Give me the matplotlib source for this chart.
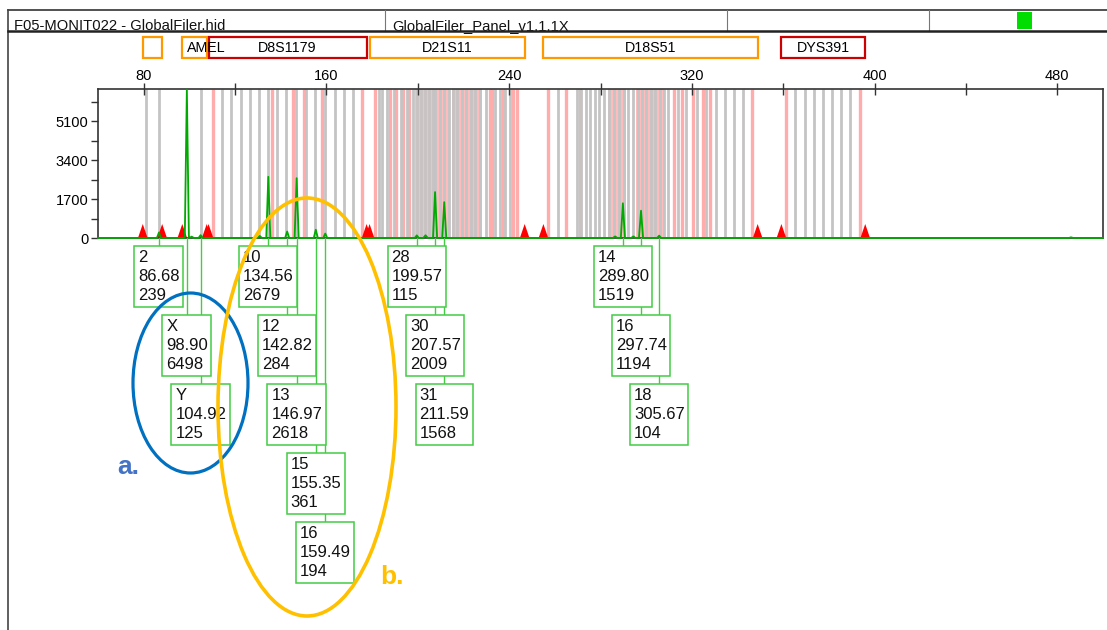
import matplotlib.pyplot as plt
from matplotlib.patches import Rectangle, Ellipse, Polygon
from matplotlib.ticker import MultipleLocator

plt.rcParams["font.family"] = ["Liberation Sans", "DejaVu Sans"]

W, H = 1107, 630

header_file = "F05-MONIT022 - GlobalFiler.hid"
header_panel = "GlobalFiler_Panel_v1.1.1X"

marker_names = ["", "AMEL", "D8S1179", "D21S11", "D18S51", "DYS391"]
marker_starts = [79.6, 96.9, 108.4, 178.9, 255.0, 359.2]
marker_ends = [88.1, 107.6, 177.6, 246.8, 348.8, 395.9]
marker_colors = ["#ff9900", "#ff9900", "#cc0000", "#ff9900", "#ff9900", "#cc0000"]

allele_names = ["2", "X", "Y", "10", "12", "13", "15", "16", "28", "30", "31", "14", "16", "18"]
allele_sizes = [86.68, 98.90, 104.92, 134.56, 142.82, 146.97, 155.35, 159.49,
                199.57, 207.57, 211.59, 289.80, 297.74, 305.67]
allele_heights = [239, 6498, 125, 2679, 284, 2618, 361, 194, 115, 2009, 1568, 1519, 1194, 104]

minor_sizes = [101.0, 130.8, 203.4, 286.4, 294.4, 486.0]
minor_heights = [60, 90, 120, 70, 70, 30]

gray_bins = [81.2, 86.6, 105.0, 114.5, 118.4, 122.5, 126.4, 130.5, 134.4, 138.5, 142.5,
             146.8, 150.9, 154.9, 159.2, 163.6, 167.6, 171.6, 182.9, 184.5, 186.4, 189.5,
             192.5, 195.1, 197.8, 199.5, 201.3, 203.0, 204.8, 206.5, 207.6, 209.6, 211.6,
             213.5, 215.3, 217.0, 219.2, 221.0, 223.2, 224.9, 227.1, 230.0, 233.7, 235.9,
             238.4, 240.2, 261.3, 269.6, 271.6, 273.5, 275.5, 277.5, 279.2, 281.4, 283.6,
             285.8, 287.9, 290.2, 292.2, 294.2, 296.3, 298.0, 300.1, 302.2, 304.0, 305.9,
             308.0, 309.6, 313.8, 317.5, 322.1, 326.1, 330.4, 334.4, 338.6, 342.3, 365.3,
             369.4, 373.3, 377.3, 381.2, 385.2, 389.1]
pink_bins = [110.4, 136.3, 145.5, 150.1, 158.2, 175.8, 181.1, 187.7, 190.3, 193.5, 196.2,
             231.5, 232.4, 237.2, 241.6, 243.6, 257.0, 265.1, 271.2, 312.0, 315.9, 320.3,
             324.7, 328.1, 346.5, 361.1, 393.4]
pink_spans = [(198.7, 213.6), (214.9, 228.0), (283.5, 291.0), (295.5, 308.0)]

x_ticks_major = 80
x_ticks_minor = 40
y_ticks_major = 1700
y_ticks_minor = 850

GREEN = "#00aa00"
BOX_GREEN = "#44cc44"


def assignRows(lefts, rights):
    placed = []
    rows = []
    for l, r in zip(lefts, rights):
        row = 0
        while any(pr == row and l < pr_r + 2 and r > pr_l - 2 for pr, pr_l, pr_r in placed):
            row += 1
        placed.append((row, l, r))
        rows.append(row)
    return rows


fig = plt.figure(figsize=(W / 100, H / 100), dpi=100)
ax = fig.add_axes([98 / W, 1 - 238 / H, (1103 - 98) / W, (238 - 89) / H])
ax.set_xlim(60, 500)
ax.set_ylim(0, 6520)

# bins
for s, e in pink_spans:
    ax.axvspan(s, e, color="#ffbcbc", lw=0, zorder=1)
ax.vlines(pink_bins, 0, 1, transform=ax.get_xaxis_transform(), color="#ffacac", lw=2.4, zorder=1.1)
ax.vlines(gray_bins, 0, 1, transform=ax.get_xaxis_transform(), color="#c4c4c4", lw=2, zorder=1.2)

# trace
peaks = sorted(zip(allele_sizes + minor_sizes, allele_heights + minor_heights,
                   [0.9] * len(allele_sizes) + [1.0] * len(minor_sizes)))
xs, ys = [60], [0]
for s, h, hw in peaks:
    xs += [s - hw, s, s + hw]
    ys += [0, h, 0]
xs.append(500)
ys.append(0)

# edge triangles
for edge in marker_starts + marker_ends:
    ax.add_patch(Polygon([(edge - 2.1, 0), (edge + 2.1, 0), (edge, 0.094)], closed=True,
                         color="red", transform=ax.get_xaxis_transform(), zorder=2.5, lw=0))

ax.plot(xs, ys, color=GREEN, lw=1.3, zorder=3, clip_on=False)

ax.xaxis.tick_top()
ax.xaxis.set_major_locator(MultipleLocator(x_ticks_major))
ax.xaxis.set_minor_locator(MultipleLocator(x_ticks_minor))
ax.yaxis.set_major_locator(MultipleLocator(y_ticks_major))
ax.yaxis.set_minor_locator(MultipleLocator(y_ticks_minor))
ax.tick_params(axis="x", which="both", direction="inout", length=9, width=1, color="#333333",
               labelsize=10.5, pad=0, top=True, bottom=False)
ax.tick_params(axis="y", which="both", direction="out", length=5, width=1, color="#333333",
               labelsize=10.5, pad=2)
for sp in ax.spines.values():
    sp.set_color("#333333")
    sp.set_linewidth(1.2)

# overlay in pixel coordinates
ov = fig.add_axes([0, 0, 1, 1], zorder=5)
ov.set_xlim(0, W)
ov.set_ylim(H, 0)
ov.axis("off")


def bpToPx(bp):
    disp = ax.transData.transform((bp, 0))
    return ov.transData.inverted().transform(disp)[0]


# header
ov.plot([8, W], [10, 10], color="#333333", lw=1.2)
ov.plot([8, 8], [10, H], color="#444444", lw=1.2)
for xd in [385, 727, 929]:
    ov.plot([xd, xd], [10, 31], color="#777777", lw=0.8)
ov.text(14, 30, header_file, fontsize=10.6, va="baseline", color="#111111", zorder=1)
ov.text(392, 30, header_panel, fontsize=10.6, va="baseline", color="#111111", zorder=1)
ov.add_patch(Rectangle((1017, 12), 15, 17, color="#00dd00", lw=0))
ov.plot([8, W], [31, 31], color="#222222", lw=1.8, zorder=2)

# marker boxes
for name, s, e, c in zip(marker_names, marker_starts, marker_ends, marker_colors):
    x0, x1 = bpToPx(s), bpToPx(e)
    ov.add_patch(Rectangle((x0, 37), x1 - x0, 21, fill=False, ec=c, lw=1.6, zorder=3))
    if name:
        if x1 - x0 < 50:
            ov.text(x0 + 5, 48, name, fontsize=10.3, ha="left", va="center", zorder=4)
        else:
            ov.text((x0 + x1) / 2, 48, name, fontsize=10.3, ha="center", va="center", zorder=4)

# allele boxes
renderer = fig.canvas.get_renderer()
labels = [f"{n}\n{s:.2f}\n{h}" for n, s, h in zip(allele_names, allele_sizes, allele_heights)]
centers, widths = [], []
for lab, s in zip(labels, allele_sizes):
    t = ov.text(0, 0, lab, fontsize=12)
    widths.append(t.get_window_extent(renderer).width + 7.5)
    t.remove()
    centers.append(bpToPx(s))
lefts = [c - w / 2 for c, w in zip(centers, widths)]
rights = [c + w / 2 for c, w in zip(centers, widths)]
rows = assignRows(lefts, rights)

for lab, c, l, w, r in zip(labels, centers, lefts, widths, rows):
    top = 246 + r * 69
    ov.plot([c, c], [238, top], color=BOX_GREEN, lw=1, zorder=2)
    ov.add_patch(Rectangle((l, top), w, 61, fc="white", ec=BOX_GREEN, lw=1.1, zorder=3))
    ov.text(l + 4, top + 4, lab, fontsize=12, linespacing=1.32, va="top", ha="left",
            color="#111111", zorder=4)

# annotations
ov.add_patch(Ellipse((190.5, 383), 115, 180, fill=False, ec="#0070c0", lw=2.3, zorder=6))
ov.add_patch(Ellipse((307, 407), 178, 418, fill=False, ec="#ffc000", lw=2.6, zorder=6))
ov.text(117, 467, "a.", color="#4472c4", fontsize=19, fontweight="bold", va="center", zorder=6)
ov.text(380, 577, "b.", color="#ffc000", fontsize=19, fontweight="bold", va="center", zorder=6)

fig.savefig("out.png", dpi=100)
